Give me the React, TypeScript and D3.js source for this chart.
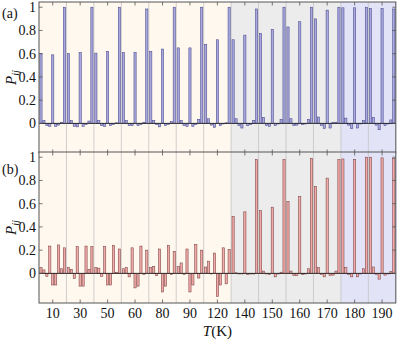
import * as d3 from "d3";

// temperature groups (K) along the bottom axis
const tempLabels = ["10", "30", "50", "60", "80", "90", "120", "140", "150", "160", "170", "180", "190"];
// background phase for each temperature group
const phases = ["low", "low", "low", "low", "low", "low", "low", "mid", "mid", "mid", "mid", "high", "high"];
// 3x3 matrix elements shown in every group
const elements = ["11", "12", "13", "21", "22", "23", "31", "32", "33"];
const yTicks = [0, 0.2, 0.4, 0.6, 0.8, 1];

// panel (a) values, one row per temperature
const pA = [
  [0.6, 0.025, -0.02, -0.025, 0.59, -0.025, -0.015, 0.01, 1.0],
  [0.6, 0.025, -0.025, -0.03, 0.61, -0.025, -0.01, 0.02, 1.0],
  [0.605, 0.025, -0.02, -0.025, 0.62, -0.02, -0.01, 0.005, 1.0],
  [0.61, 0.025, -0.02, -0.02, 0.61, -0.02, -0.01, 0.01, 0.985],
  [0.62, 0.025, -0.01, -0.03, 0.64, -0.02, -0.01, 0.015, 1.0],
  [0.65, 0.025, -0.02, -0.025, 0.65, -0.025, -0.01, 0.035, 1.0],
  [0.68, 0.04, -0.015, -0.035, 0.72, -0.02, -0.005, 0.005, 1.0],
  [0.72, 0.04, -0.02, -0.04, 0.76, -0.02, -0.01, 0.025, 0.985],
  [0.775, 0.05, -0.02, -0.025, 0.81, -0.02, -0.005, 0.035, 1.0],
  [0.83, 0.04, -0.02, -0.015, 0.875, -0.01, 0.0, 0.035, 1.0],
  [0.9, 0.055, -0.02, -0.045, 0.975, -0.04, 0.01, 0.01, 1.0],
  [0.995, 0.045, -0.015, -0.045, 0.995, -0.04, -0.005, 0.025, 1.0],
  [0.99, 0.05, -0.015, -0.055, 0.99, -0.02, -0.005, 0.03, 0.985],
];

// panel (b) values, one row per temperature
const pB = [
  [0.05, 0.03, -0.025, 0.235, -0.1, -0.1, 0.245, 0.04, 0.22],
  [0.05, 0.035, -0.045, 0.23, -0.11, -0.11, 0.235, 0.035, 0.23],
  [0.05, 0.045, -0.025, 0.23, -0.1, -0.1, 0.24, 0.01, 0.21],
  [0.04, 0.05, -0.03, 0.22, -0.125, -0.11, 0.235, -0.01, 0.2],
  [0.05, 0.06, -0.02, 0.21, -0.16, -0.11, 0.24, -0.01, 0.19],
  [0.06, 0.09, -0.01, 0.21, -0.16, -0.1, 0.25, -0.04, 0.2],
  [0.055, 0.105, -0.005, 0.175, -0.2, -0.1, 0.22, -0.09, 0.205],
  [0.49, 0.005, -0.005, 0.0, 0.53, -0.01, -0.005, 0.0, 0.98],
  [0.54, 0.02, -0.005, -0.01, 0.57, -0.03, 0.0, 0.01, 0.98],
  [0.62, 0.02, -0.02, -0.02, 0.66, -0.01, 0.0, 0.04, 0.99],
  [0.75, 0.05, -0.01, -0.03, 0.82, -0.02, -0.015, 0.02, 0.98],
  [0.985, 0.05, -0.01, -0.03, 0.98, -0.03, 0.0, 0.04, 1.0],
  [1.0, 0.055, -0.01, -0.05, 0.995, -0.015, 0.0, 0.015, 0.99],
];

const WIDTH = 407;
const HEIGHT = 340;
const LEFT = 39;
const RIGHT = 395.8;
const FONT = "Liberation Serif, Times New Roman, Times, serif";

const phaseColor = { low: "#fff8ee", mid: "#ececec", high: "#e3e3f8" };

const PANELS = [
  { top: 2, bottom: 153, data: pA, fill: "#a9a9df", stroke: "#45458a", tag: "(a)", tagY: 18 },
  { top: 152, bottom: 303, data: pB, fill: "#f2aaa8", stroke: "#774040", tag: "(b)", tagY: 174 },
];

const Panel = ({ panel, xScale, inner }) => {
  // y range includes a little negative space below zero
  const yScale = d3.scaleLinear().domain([-0.255, 1.045]).range([panel.bottom, panel.top]);
  const h = panel.bottom - panel.top;
  const mid = (panel.top + panel.bottom) / 2;

  return (
    <g>
      {/* phase backgrounds */}
      {tempLabels.map((t, i) => (
        <rect
          key={"bg" + t}
          x={xScale(t)}
          y={panel.top}
          width={xScale.bandwidth() + 0.5}
          height={h}
          fill={phaseColor[phases[i]]}
        />
      ))}
      {/* group separators */}
      {tempLabels.slice(1).map((t) => (
        <line
          key={"sep" + t}
          x1={xScale(t)}
          x2={xScale(t)}
          y1={panel.top}
          y2={panel.bottom}
          stroke="#c4c4c4"
          strokeWidth={0.8}
        />
      ))}
      {/* bars */}
      {panel.data.map((row, gi) =>
        row.map((v, k) => {
          const y0 = yScale(0);
          const y1 = yScale(v);
          return (
            <rect
              key={gi + "-" + k}
              x={xScale(tempLabels[gi]) + inner(elements[k])}
              y={Math.min(y0, y1)}
              width={inner.bandwidth()}
              height={Math.max(Math.abs(y1 - y0), 0.6)}
              fill={panel.fill}
              stroke={panel.stroke}
              strokeWidth={0.55}
            />
          );
        })
      )}
      {/* zero line */}
      <line x1={LEFT} x2={RIGHT} y1={yScale(0)} y2={yScale(0)} stroke="#222" strokeWidth={0.9} />
      {/* frame */}
      <rect x={LEFT} y={panel.top} width={RIGHT - LEFT} height={h} fill="none" stroke="#555" strokeWidth={1} />
      {/* x ticks top & bottom */}
      {tempLabels.map((t) => {
        const cx = xScale(t) + xScale.bandwidth() / 2;
        return (
          <g key={"xt" + t} stroke="#555" strokeWidth={0.8}>
            <line x1={cx} x2={cx} y1={panel.top} y2={panel.top + 3.5} />
            <line x1={cx} x2={cx} y1={panel.bottom} y2={panel.bottom - 3.5} />
          </g>
        );
      })}
      {/* y ticks and labels */}
      {yTicks.map((v) => (
        <g key={"yt" + v}>
          <line x1={LEFT} x2={LEFT + 3.5} y1={yScale(v)} y2={yScale(v)} stroke="#555" strokeWidth={0.8} />
          <line x1={RIGHT} x2={RIGHT - 3.5} y1={yScale(v)} y2={yScale(v)} stroke="#555" strokeWidth={0.8} />
          <text
            x={36}
            y={yScale(v)}
            dy="0.35em"
            textAnchor="end"
            fontFamily={FONT}
            fontSize={14}
            fill="#111"
          >
            {String(v)}
          </text>
        </g>
      ))}
      <text x={2} y={panel.tagY} fontFamily={FONT} fontSize={14} fill="#111">
        {panel.tag}
      </text>
      <text
        transform={`translate(16,${mid}) rotate(-90)`}
        textAnchor="middle"
        fontFamily={FONT}
        fill="#111"
      >
        <tspan fontStyle="italic" fontSize={15}>P</tspan>
        <tspan fontStyle="italic" fontSize={10.5} dy={3}>ij</tspan>
      </text>
    </g>
  );
};

export default function App() {
  const xScale = d3.scaleBand().domain(tempLabels).range([LEFT, RIGHT]).padding(0);
  const inner = d3
    .scaleBand()
    .domain(elements)
    .range([0, xScale.bandwidth()])
    .paddingInner(0.25)
    .paddingOuter(0.3);

  return (
    <div style={{ position: "absolute", left: 0, top: 0 }}>
      <svg width={WIDTH} height={HEIGHT} style={{ display: "block", background: "#fff" }}>
        {PANELS.map((p) => (
          <Panel key={p.tag} panel={p} xScale={xScale} inner={inner} />
        ))}
        {tempLabels.map((t) => (
          <text
            key={"xl" + t}
            x={xScale(t) + xScale.bandwidth() / 2}
            y={318}
            textAnchor="middle"
            fontFamily={FONT}
            fontSize={14}
            fill="#111"
          >
            {t}
          </text>
        ))}
        <text x={(LEFT + RIGHT) / 2} y={336} textAnchor="middle" fontFamily={FONT} fontSize={15} fill="#111">
          <tspan fontStyle="italic">T</tspan>
          <tspan>(K)</tspan>
        </text>
      </svg>
    </div>
  );
}
